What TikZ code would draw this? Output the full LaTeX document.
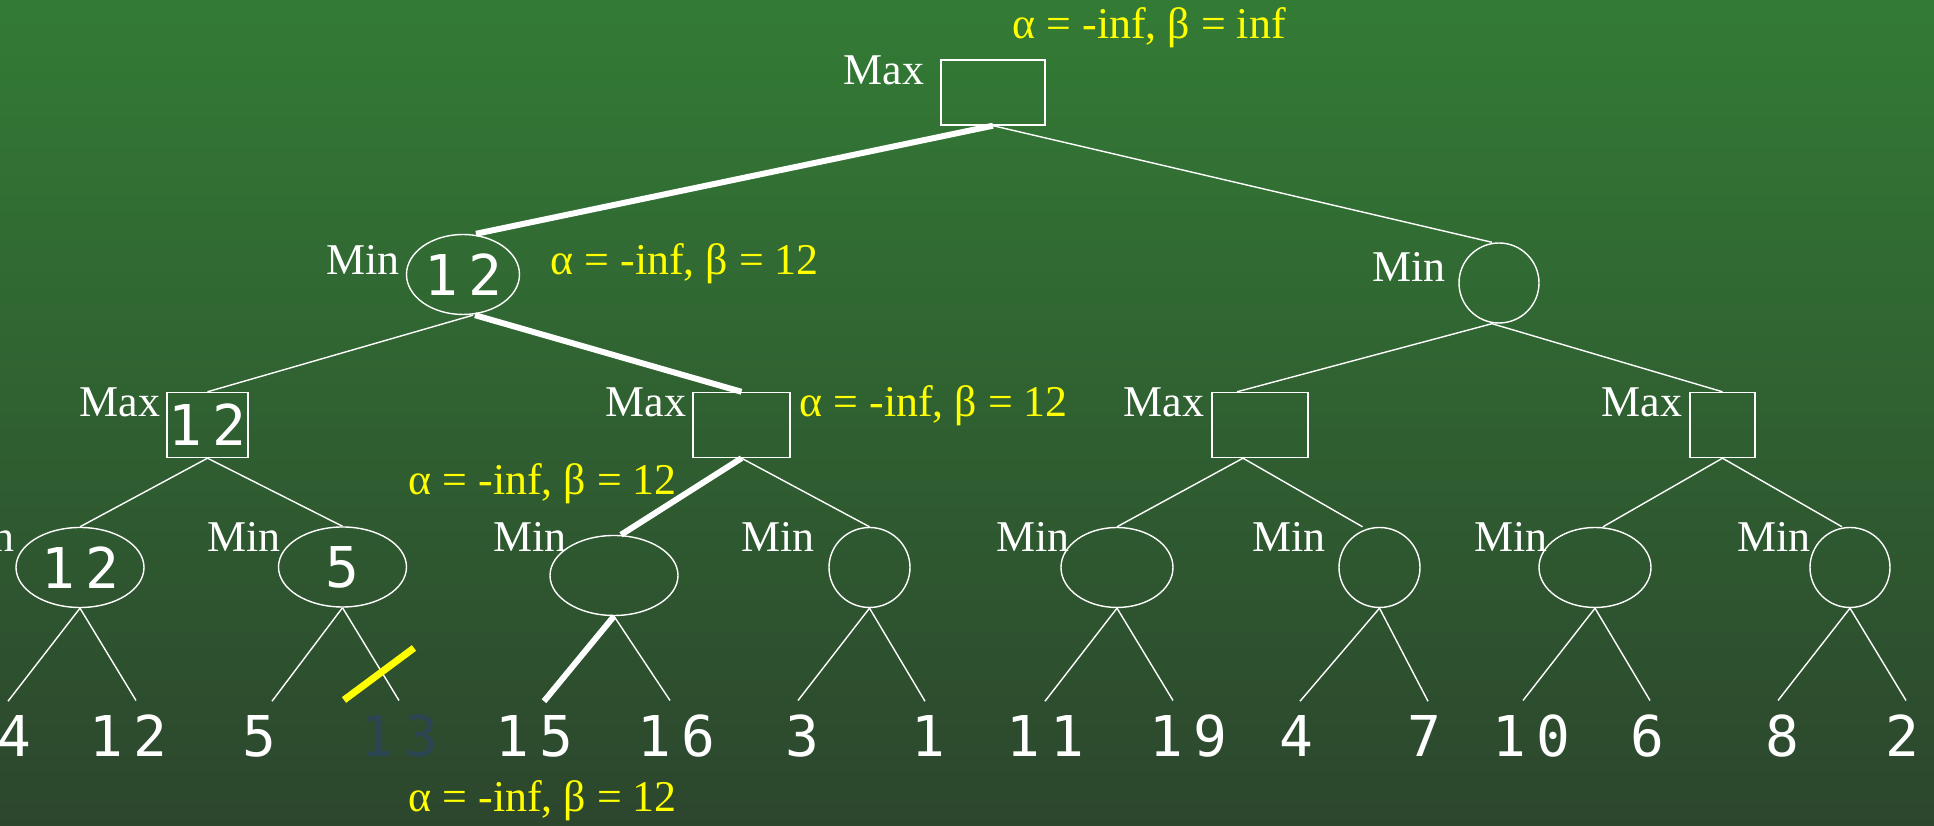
\documentclass[tikz,border=0pt]{standalone}
\usepackage{fontspec}
\setmainfont{Liberation Serif}
\newfontfamily\numfont[LetterSpace=18]{DejaVu Sans Mono}
\usetikzlibrary{shapes.geometric}
\definecolor{cBgTop}{HTML}{337B35}
\definecolor{cBgBot}{HTML}{2C462D}
\definecolor{cNote}{HTML}{FFFF00}
\definecolor{cPruned}{HTML}{2B4553}
\tikzset{
  abnum/.style={text=white,font=\numfont\fontsize{16}{18}\selectfont,inner sep=0pt},
  abmax/.style={abnum,draw=white,line width=0.4pt,rectangle,minimum height=6.5mm},
  abmin/.style={abnum,draw=white,line width=0.4pt,ellipse,minimum height=8mm},
  abtag/.style={text=white,font=\fontsize{12.5}{14}\selectfont,inner sep=0pt,
      anchor=base east},
  abnote/.style={text=cNote,font=\fontsize{12.5}{14}\selectfont,inner sep=0pt,
      anchor=base west},
  ableaf/.style={abnum,inner ysep=4pt,anchor=base},
  abedge/.style={draw=white,line width=0.4pt},
  abpath/.style={draw=white,line width=1.7pt},
  abcut/.style={draw=cNote,line width=2pt},
}
\newcommand{\abnode}[7]{%
  \node[#1,minimum width=#4] (#2) at (#3) {#5};
  \node[abtag] (#2t) at (#7) {#6};}
\newcommand{\leaf}[7][]{%
  \node[ableaf,#1] (#4) at (#5,757) {#6};
  \draw[#2] (#3.south) -- ([xshift=#7]#4.north);}
\begin{document}
\begin{tikzpicture}[x=0.1mm,y=-0.1mm]
  \useasboundingbox (0,0) rectangle (1934,826);
  \shade[top color=cBgTop,bottom color=cBgBot] (0,0) rectangle (1934,826);

  \abnode{abmax}{root}{993,92.5}{10.4mm}{}{Max}{925,85}
  \abnode{abmin}{mnl}{463,274.5}{11.3mm}{12}{Min}{400,275}
  \abnode{abmin}{mnr}{1499,283}{8mm}{}{Min}{1446,282}

  \abnode{abmax}{mxa}{207.5,425}{8.1mm}{12}{Max}{161,417}
  \abnode{abmax}{mxb}{741.5,425}{9.7mm}{}{Max}{687,417}
  \abnode{abmax}{mxc}{1260,425}{9.6mm}{}{Max}{1205,417}
  \abnode{abmax}{mxd}{1722.5,425}{6.5mm}{}{Max}{1683,417}

  \abnode{abmin}{mn1}{80,567.5}{12.8mm}{12}{Min}{15,552}
  \abnode{abmin}{mn2}{342.5,567}{12.8mm}{5}{Min}{281,552}
  \abnode{abmin}{mn3}{614,575.5}{12.8mm}{}{Min}{567,552}
  \abnode{abmin}{mn4}{869.5,567.5}{8.1mm}{}{Min}{815,552}
  \abnode{abmin}{mn5}{1117,567.5}{11.2mm}{}{Min}{1070,552}
  \abnode{abmin}{mn6}{1379.5,567.5}{8.1mm}{}{Min}{1326,552}
  \abnode{abmin}{mn7}{1595,567.5}{11.2mm}{}{Min}{1548,552}
  \abnode{abmin}{mn8}{1850,567.5}{8mm}{}{Min}{1811,552}

  \draw[abpath] (root.south) -- ([xshift=1.3mm]mnl.north);
  \draw[abedge] (root.south) -- ([xshift=-0.7mm]mnr.north);
  \draw[abedge] ([xshift=1mm]mnl.south) -- (mxa.north);
  \draw[abpath] ([xshift=1.2mm]mnl.south) -- (mxb.north);
  \draw[abedge] ([xshift=-0.7mm]mnr.south) -- ([xshift=-2.3mm]mxc.north);
  \draw[abedge] ([xshift=-0.7mm]mnr.south) -- (mxd.north);
  \draw[abedge] (mxa.south) -- (mn1.north);
  \draw[abedge] (mxa.south) -- (mn2.north);
  \draw[abpath] (mxb.south) -- ([xshift=0.7mm]mn3.north);
  \draw[abedge] (mxb.south) -- (mn4.north);
  \draw[abedge] ([xshift=-1.7mm]mxc.south) -- (mn5.north);
  \draw[abedge] ([xshift=-1.7mm]mxc.south) -- ([xshift=-1.7mm]mn6.north);
  \draw[abedge] (mxd.south) -- ([xshift=0.8mm]mn7.north);
  \draw[abedge] (mxd.south) -- ([xshift=-0.8mm]mn8.north);

  \leaf{abedge}{mn1}{lf1}{14}{4}{-0.6mm}
  \leaf{abedge}{mn1}{lf2}{128}{12}{0.8mm}
  \leaf{abedge}{mn2}{lf3}{259}{5}{1.3mm}
  \leaf[text=cPruned]{abedge}{mn2}{lf4}{399}{13}{0mm}
  \leaf{abpath}{mn3}{lf5}{534}{15}{1mm}
  \leaf{abedge}{mn3}{lf6}{676}{16}{-0.6mm}
  \leaf{abedge}{mn4}{lf7}{802}{3}{-0.4mm}
  \leaf{abedge}{mn4}{lf8}{928}{1}{-0.3mm}
  \leaf{abedge}{mn5}{lf9}{1045}{11}{0mm}
  \leaf{abedge}{mn5}{lf10}{1188}{19}{-1.5mm}
  \leaf{abedge}{mn6}{lf11}{1296}{4}{0.4mm}
  \leaf{abedge}{mn6}{lf12}{1424}{7}{0.4mm}
  \leaf{abedge}{mn7}{lf13}{1531}{10}{-0.8mm}
  \leaf{abedge}{mn7}{lf14}{1647}{6}{0.3mm}
  \leaf{abedge}{mn8}{lf15}{1782}{8}{-0.4mm}
  \leaf{abedge}{mn8}{lf16}{1902}{2}{0.4mm}

  \draw[abcut] (344,700) -- (414,648);

  \node[abnote] (abroot) at (1012,39) {α = -inf, β = inf};
  \node[abnote] (abmnl) at (550,275) {α = -inf, β = 12};
  \node[abnote] (abmxb) at (799,417) {α = -inf, β = 12};
  \node[abnote] (abmn3) at (408,495) {α = -inf, β = 12};
  \node[abnote] (ablf5) at (408,812) {α = -inf, β = 12};
\end{tikzpicture}
\end{document}
